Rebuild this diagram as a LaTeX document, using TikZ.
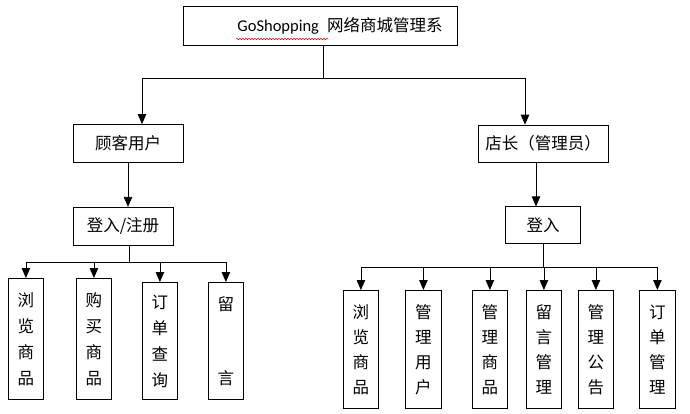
\documentclass[tikz,border=0pt]{standalone}
\usepackage{fontspec}
\setmainfont{Carlito}
\newfontfamily\cjk{Noto Sans CJK SC}
\usetikzlibrary{positioning,arrows.meta,decorations.pathmorphing}

\begin{document}
\begin{tikzpicture}[x=1pt,y=-1pt,
        box/.style={draw,line width=0.8pt,inner sep=0pt,minimum height=38pt,
                    font=\cjk\fontsize{16.5}{19}\selectfont},
        leaf/.style={draw,line width=0.8pt,inner sep=0pt,align=center,anchor=north west,
                    minimum width=35pt,font=\cjk\fontsize{16.5}{26}\selectfont},
        leafr/.style={leaf,minimum height=118pt,font=\cjk\fontsize{16.5}{25}\selectfont},
        wire/.style={line width=0.8pt},
        arr/.style={-{Triangle[length=10pt,width=8.5pt]},line width=0.8pt}]
    \useasboundingbox (0,0) rectangle (690,413);
    % 顶层与两类用户
    \node[box,minimum width=274pt,minimum height=39pt] (top) at (320,25.5)
        {\hspace{40pt}{\rmfamily\fontsize{16.5}{19}\selectfont GoShopping}\hspace{8pt}网络商城管理系};
    \node[box,minimum width=110pt] (cust) at (128,143.5) {顾客用户};
    \node[box,minimum width=100pt,below=44pt of cust.south west,anchor=north west] (clog) {登入/注册};
    \node[box,minimum width=130pt,minimum height=37pt] (shop) at (543,143.5) {店长（管理员）};
    \node[box,minimum width=75pt,minimum height=37pt,below=44pt of shop] (slog) {登入};
    % 顾客功能
    \node[leaf,minimum height=121pt] (c1) at (8,278) {浏\\览\\商\\品};
    \node[leaf,minimum height=121pt] (c2) at (76,278) {购\\买\\商\\品};
    \node[leaf,minimum height=117pt] (c3) at (142,282) {订\\单\\查\\询};
    \node[leaf,minimum height=117pt] (c4) at (208,282) {留\\[48pt]言};
    % 店长功能
    \node[leafr] (m1) at (343,290) {浏\\览\\商\\品};
    \node[leafr,minimum width=36pt] (m2) at (405,290) {管\\理\\用\\户};
    \node[leafr] (m3) at (472,290) {管\\理\\商\\品};
    \node[leafr] (m4) at (526,290) {留\\言\\管\\理};
    \node[leafr] (m5) at (578,290) {管\\理\\公\\告};
    \node[leafr,minimum width=36pt] (m6) at (639,290) {订\\单\\管\\理};
    % 拼写检查波浪线
    \draw[red,line width=0.5pt,decorate,decoration={snake,amplitude=0.7pt,segment length=3pt}]
        (236,39) -- (328,39);
    % 连线
    \coordinate (hub) at (323,78);
    \coordinate (dropL) at (142,78);
    \coordinate (dropR) at (525,78);
    \coordinate (sdrop) at (536,0);
    \coordinate (lhub) at (129,262);
    \coordinate (rhub) at (543,267);
    \draw[wire] (top.south -| hub) -- (hub); \draw[wire] (dropL) -- (dropR);
    \draw[arr] (dropL) -- (dropL |- cust.north); \draw[arr] (dropR) -- (dropR |- shop.north);
    \draw[arr] (cust.south) -- (cust.south |- clog.north);
    \draw[arr] (sdrop |- shop.south) -- (sdrop |- slog.north);
    \draw[wire] (lhub |- clog.south) -- (lhub); \draw[wire] (c1.north |- lhub) -- (c4.north |- lhub);
    \draw[arr] (c1.north |- lhub) -- (c1.north); \draw[arr] (c2.north |- lhub) -- (c2.north);
    \draw[arr] (c3.north |- lhub) -- (c3.north); \draw[arr] (c4.north |- lhub) -- (c4.north);
    \draw[wire] (rhub |- slog.south) -- (rhub); \draw[wire] (m1.north |- rhub) -- (m6.north |- rhub);
    \draw[arr] (m1.north |- rhub) -- (m1.north); \draw[arr] (m2.north |- rhub) -- (m2.north);
    \draw[arr] (m3.north |- rhub) -- (m3.north); \draw[arr] (m4.north |- rhub) -- (m4.north);
    \draw[arr] (m5.north |- rhub) -- (m5.north); \draw[arr] (m6.north |- rhub) -- (m6.north);
\end{tikzpicture}
\end{document}
